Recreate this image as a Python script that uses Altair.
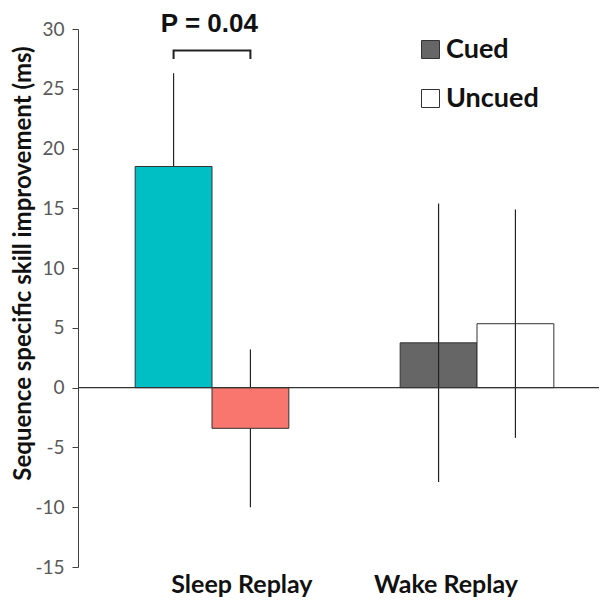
import altair as alt
import pandas as pd

# ---- data ----
groups = ["Sleep Replay", "Wake Replay"]
group_index = [1, 2]
conditions = ["Cued", "Uncued"]
# order: Sleep Cued, Sleep Uncued, Wake Cued, Wake Uncued
means = [18.5, -3.4, 3.75, 5.35]
errors = [7.8, 6.6, 11.65, 9.55]
fill_keys = ["Sleep Cued", "Sleep Uncued", "Cued", "Uncued"]
fill_colors = ["#00BFC4", "#F8766D", "#666666", "#FFFFFF"]
y_ticks = [-15, -10, -5, 0, 5, 10, 15, 20, 25, 30]
label_pos = [1.113, 1.883]
p_text = "P = 0.04"
bracket_level = 28.2
bracket_tip = 27.5
p_level = 30.4
label_level = -16.5

BW = 0.29  # bar width in group units
FONT = "Lato"
Y_TITLE = "Sequence specific skill improvement (ms)"

rows = []
k = 0
for gi, g in zip(group_index, groups):
    for ci, c in enumerate(conditions):
        x0 = gi - BW + ci * BW
        rows.append(dict(group=g, cond=c, key=fill_keys[k], x0=x0, x1=x0 + BW,
                         xc=x0 + BW / 2, mean=means[k], lo=means[k] - errors[k],
                         hi=means[k] + errors[k], zero=0, sleep=(g == "Sleep Replay")))
        k += 1
df = pd.DataFrame(rows)

xscale = alt.Scale(domain=[1 - 134 / 265, 1 - 134 / 265 + 521 / 265], nice=False, zero=False)
yscale = alt.Scale(domain=[-15, 30], nice=False, zero=False)
yaxis = alt.Axis(values=y_ticks, grid=False, domainColor="#404040", tickColor="#404040",
                 tickSize=6, labelFont=FONT, labelFontSize=19, labelColor="#595959",
                 labelPadding=8, labelExpr="'' + datum.value", title=Y_TITLE,
                 titleFont=FONT, titleFontSize=24, titleFontWeight="bold",
                 titleColor="#111111", titleAngle=270, titleX=-55, titleY=234,
                 titleAlign="center", titleBaseline="middle")


def Y(field):
    return alt.Y(field, scale=yscale, axis=yaxis, title=Y_TITLE)


def X(field):
    return alt.X(field, scale=xscale, axis=None)


base = alt.Chart(df)

err_sleep = base.transform_filter("datum.sleep").mark_rule(color="#222222", strokeWidth=1.2).encode(
    x=X("xc:Q"), y=Y("lo:Q"), y2="hi:Q",
)

bars = base.mark_bar(stroke="#333333", strokeWidth=1).encode(
    x=X("x0:Q"),
    x2="x1:Q",
    y=Y("mean:Q"),
    y2="zero:Q",
    fill=alt.Fill("key:N", scale=alt.Scale(domain=fill_keys, range=fill_colors),
                  legend=alt.Legend(values=conditions, orient="none", legendX=339, legendY=7,
                                    title=None, symbolType="square", symbolSize=324,
                                    symbolStrokeColor="#333333", symbolStrokeWidth=1,
                                    labelFont=FONT, labelFontSize=27, labelFontWeight="bold",
                                    labelColor="#111111", labelOffset=2, rowPadding=21,
                                    padding=0)),
)

err_wake = base.transform_filter("!datum.sleep").mark_rule(color="#222222", strokeWidth=1.2).encode(
    x=X("xc:Q"), y=Y("lo:Q"), y2="hi:Q",
)

zero_line = alt.Chart(pd.DataFrame({"z": [0]})).mark_rule(color="#333333", strokeWidth=1.2).encode(
    y=Y("z:Q")
)

labels_df = pd.DataFrame({"label": groups, "pos": label_pos, "lvl": [label_level] * 2})
cat_labels = alt.Chart(labels_df).mark_text(font=FONT, fontSize=25, fontWeight="bold",
                                            color="#111111", baseline="middle").encode(
    x=X("pos:Q"), y=Y("lvl:Q"), text="label:N",
)

cued_x = df.loc[0, "xc"]
uncued_x = df.loc[1, "xc"]
bracket_df = pd.DataFrame({
    "bx": [cued_x, cued_x, uncued_x, uncued_x],
    "by": [bracket_tip, bracket_level, bracket_level, bracket_tip],
    "o": [0, 1, 2, 3],
})
bracket = alt.Chart(bracket_df).mark_line(color="#222222", strokeWidth=2).encode(
    x=X("bx:Q"), y=Y("by:Q"), order="o:O",
)

p_df = pd.DataFrame({"t": [p_text], "px": [(cued_x + uncued_x) / 2 - 0.01], "py": [p_level]})
p_label = alt.Chart(p_df).mark_text(font="Liberation Sans", fontSize=26, fontWeight="bold",
                                    color="#111111", baseline="middle").encode(
    x=X("px:Q"), y=Y("py:Q"), text="t:N",
)

chart = alt.layer(err_sleep, bars, err_wake, zero_line, cat_labels, bracket, p_label).properties(
    width=521, height=538,
    autosize=alt.AutoSizeParams(type="none"),
    padding={"left": 70, "top": 21, "right": 0, "bottom": 30},
).configure_view(stroke=None)

chart.save("out.html", embed_options={"renderer": "svg", "actions": False})
